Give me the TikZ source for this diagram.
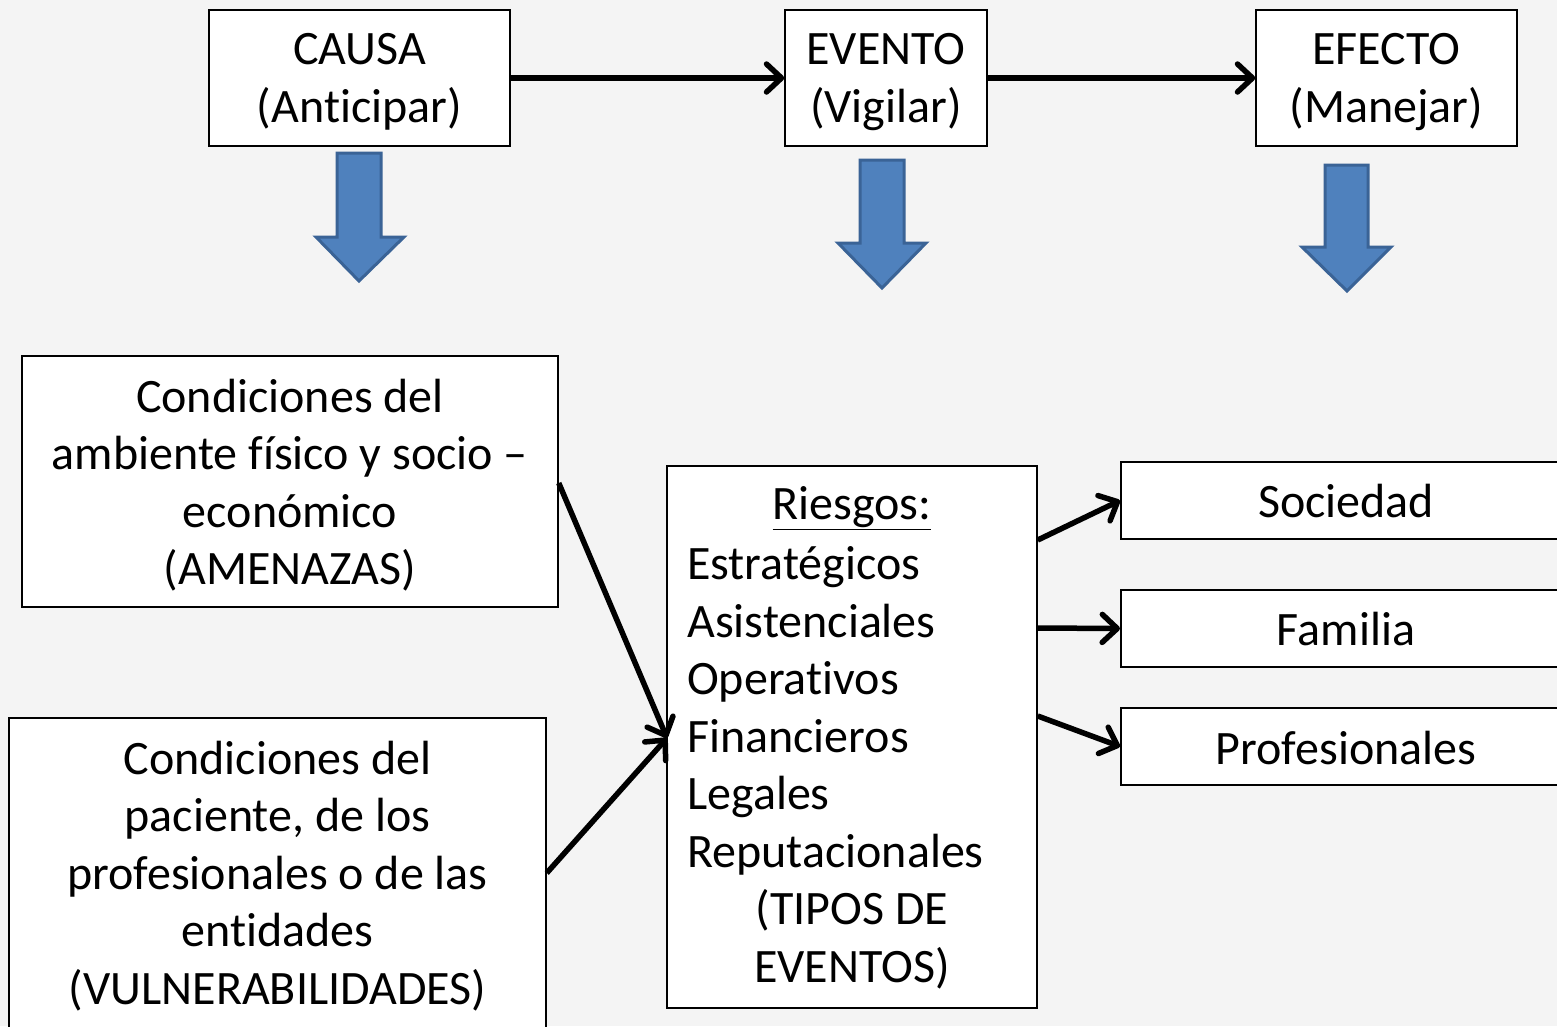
\documentclass[tikz,border=0pt]{standalone}
\usepackage{fontspec}
\setmainfont{Carlito}[Ligatures=NoCommon]
\usetikzlibrary{arrows.meta}
\definecolor{bg}{HTML}{F4F4F4}
\definecolor{bfill}{HTML}{4F81BD}
\definecolor{bdraw}{HTML}{3A6396}
\tikzset{
  box/.style={draw=black, line width=1.5pt, fill=white, inner sep=0pt},
  txt/.style={inner sep=0pt, font=\fontsize{48}{57.5}\selectfont},
  conn/.style={line width=5.5pt, -{Straight Barb[length=15pt,width=28pt,line width=5.5pt,round]}},
  blk/.style={fill=bfill, draw=bdraw, line width=3pt, line join=miter}
}
\begin{document}
\begin{tikzpicture}[x=1pt,y=-1pt]
\clip (0,0) rectangle (1557,1026);
\fill[bg] (0,0) rectangle (1557,1026);
% top boxes
\node[box, minimum width=301pt, minimum height=136pt] (causa) at (359.5,78) {};
\node[txt, align=center] (causat) at (359.5,82) {CAUSA\\(Anticipar)};
\node[box, minimum width=202pt, minimum height=136pt] (evento) at (886,78) {};
\node[txt, align=center] (eventot) at (886,82) {EVENTO\\(Vigilar)};
\node[box, minimum width=261pt, minimum height=136pt] (efecto) at (1386.5,78) {};
\node[txt, align=center] (efectot) at (1386.5,82) {EFECTO\\(Manejar)};
\draw[conn] (causa.east) -- (evento.west);
\draw[conn] (evento.east) -- (efecto.west);
% block arrows
\draw[blk] (337,153) -- (381,153) -- (381,237) -- (404,237) -- (359,281) -- (316,237) -- (337,237) -- cycle;
\draw[blk] (860,160) -- (904,160) -- (904,243) -- (926,243) -- (882,288) -- (838,243) -- (860,243) -- cycle;
\draw[blk] (1325,165) -- (1368,165) -- (1368,247) -- (1391,247) -- (1347,291) -- (1302,247) -- (1325,247) -- cycle;
% left boxes
\node[box, minimum width=536pt, minimum height=251pt] (amen) at (290,481.5) {};
\node[txt, align=center] (ament) at (290,485)
  {Condiciones del\\ambiente físico y socio –\\económico\\(AMENAZAS)};
\node[box, minimum width=537pt, minimum height=330pt] (vuln) at (277.5,883) {};
\node[txt, align=center] (vulntxt) at (277.5,876)
  {Condiciones del\\paciente, de los\\profesionales o de las\\entidades\\(VULNERABILIDADES)};
% riesgos box
\node[box, minimum width=370pt, minimum height=542pt] (ries) at (852,737) {};
\node[txt] (riestit) at (852,508) {\underline{Riesgos:}};
\node[txt, align=left, anchor=west] (rieslist) at (687,711)
  {Estratégicos\\Asistenciales\\Operativos\\Financieros\\Legales\\Reputacionales};
\node[txt, align=center] (tipos) at (852,939.5) {(TIPOS DE\\EVENTOS)};
% right boxes
\node[box, minimum width=460pt, minimum height=77pt, anchor=west] (soc) at (1120,500.5) {};
\node[txt] (soct) at (1346,501) {Sociedad};
\node[box, minimum width=460pt, minimum height=77pt, anchor=west] (fam) at (1120,628.5) {};
\node[txt] (famt) at (1346,629) {Familia};
\node[box, minimum width=460pt, minimum height=77pt, anchor=west] (prof) at (1120,746.5) {};
\node[txt] (proft) at (1346,748) {Profesionales};
% connectors
\coordinate (rin) at (667,738);
\draw[conn] (amen.east |- 0,483) -- (rin);
\draw[conn] (vuln.east |- 0,873) -- (rin);
\draw[conn] (ries.east |- 0,540) -- (soc.west);
\draw[conn] (ries.east |- 0,628) -- (fam.west);
\draw[conn] (ries.east |- 0,716) -- (prof.west);
\end{tikzpicture}
\end{document}
